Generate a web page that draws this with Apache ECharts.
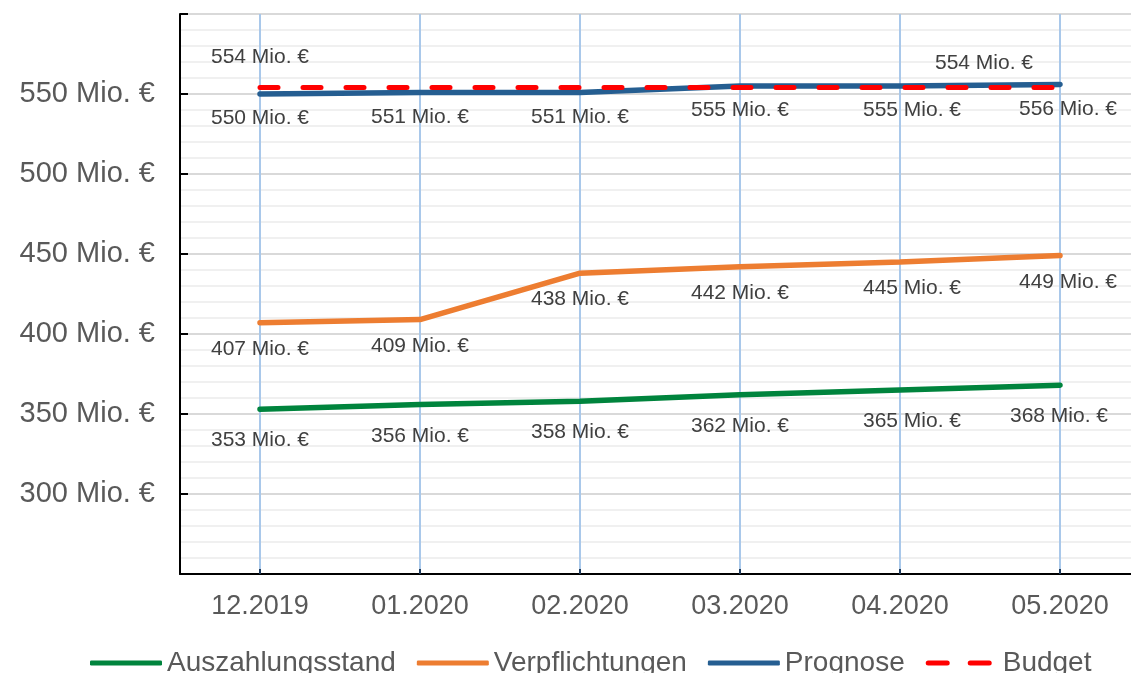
<!DOCTYPE html>
<html>
<head>
<meta charset="utf-8">
<script src="https://cdn.jsdelivr.net/npm/echarts@6/dist/echarts.min.js"></script>
<style>
html,body{margin:0;padding:0;background:#fff;}
#main{width:1131px;height:673px;}
</style>
</head>
<body>
<div id="main"></div>
<script>
var months = ['12.2019', '01.2020', '02.2020', '03.2020', '04.2020', '05.2020'];
var auszahlung = [353, 356, 358, 362, 365, 368];
var verpflichtung = [407, 409, 438, 442, 445, 449];
var prognose = [550, 551, 551, 555, 555, 556];
var budget = [554, 554, 554, 554, 554, 554];
var yTicks = [300, 350, 400, 450, 500, 550];

var lblColor = '#404040';
var lblFont = 'Liberation Sans, Arial, sans-serif';

function mio(p) {
	return p.value + ' Mio. €';
}

// kleine Verschiebung der Beschriftungen wie im Original
function shiftLabels(lastDx) {
	return function (params) {
		if (params.dataIndex === 4) return {dx: 12};
		if (params.dataIndex === 5) return {dx: lastDx};
		return {};
	};
}

var myChart = echarts.init(document.getElementById('main'));

var option = {
	animation: false,
	textStyle: {fontFamily: lblFont},
	grid: {left: 180, width: 960, top: 14, bottom: 99, outerBoundsMode: 'none', containLabel: false},
	legend: {
		bottom: -9,
		left: 85,
		itemWidth: 72,
		itemHeight: 5,
		itemGap: 21,
		textStyle: {fontSize: 28, color: '#595959', fontFamily: lblFont},
		data: [
			{name: 'Auszahlungsstand', icon: 'roundRect'},
			{name: 'Verpflichtungen', icon: 'roundRect'},
			{name: 'Prognose', icon: 'roundRect'},
			{name: 'Budget', icon: 'path://M2.5,0h19a2.5,2.5 0 0 1 0,5h-19a2.5,2.5 0 0 1 0,-5z M44.5,0h19a2.5,2.5 0 0 1 0,5h-19a2.5,2.5 0 0 1 0,-5z M72,0v5z'}
		]
	},
	xAxis: {
		type: 'category',
		data: months,
		axisLine: {lineStyle: {color: '#000', width: 2}},
		axisTick: {show: true, inside: true, alignWithLabel: true, length: 5, lineStyle: {color: '#1f3a5a', width: 2}},
		axisLabel: {fontSize: 27, color: '#595959', margin: 19},
		splitLine: {show: true, alignWithLabel: true, lineStyle: {color: '#a9c8ea', width: 2}}
	},
	yAxis: {
		type: 'value',
		min: 250,
		max: 600,
		interval: 50,
		axisLine: {show: true, lineStyle: {color: '#000', width: 2}},
		axisTick: {show: true, inside: true, length: 8, lineStyle: {color: '#000', width: 2}},
		axisLabel: {
			fontSize: 29, color: '#595959', margin: 25,
			formatter: function (v) {
				return yTicks.indexOf(v) >= 0 ? v + ' Mio. €' : '';
			}
		},
		splitLine: {lineStyle: {color: '#d9d9d9', width: 2}},
		minorTick: {show: false, splitNumber: 5},
		minorSplitLine: {show: true, lineStyle: {color: '#f0f0f0', width: 2}}
	},
	series: [
		{
			name: 'Auszahlungsstand',
			type: 'line',
			data: auszahlung,
			symbol: 'circle',
			symbolSize: 0,
			color: '#00843d',
			lineStyle: {width: 5.5, cap: 'round'},
			label: {
				show: true, position: 'bottom', distance: 21,
				fontSize: 21, color: lblColor, formatter: mio
			},
			labelLayout: shiftLabels(-1)
		},
		{
			name: 'Verpflichtungen',
			type: 'line',
			data: verpflichtung,
			symbol: 'circle',
			symbolSize: 0,
			color: '#ed7d31',
			lineStyle: {width: 5.5, cap: 'round'},
			label: {
				show: true, position: 'bottom', distance: 16,
				fontSize: 21, color: lblColor, formatter: mio
			},
			labelLayout: shiftLabels(8)
		},
		{
			name: 'Prognose',
			type: 'line',
			data: prognose,
			symbol: 'circle',
			symbolSize: 0,
			color: '#255e91',
			lineStyle: {width: 5.5, cap: 'round'},
			label: {
				show: true, position: 'bottom', distance: 14,
				fontSize: 21, color: lblColor, formatter: mio
			},
			labelLayout: shiftLabels(8)
		},
		{
			name: 'Budget',
			type: 'line',
			data: budget,
			symbol: 'circle',
			symbolSize: 0,
			color: '#ff0000',
			lineStyle: {width: 5, type: [18, 25], cap: 'round'},
			label: {
				show: true, position: 'top', distance: 20,
				fontSize: 21, color: lblColor,
				formatter: function (p) {
					if (p.dataIndex === 0 || p.dataIndex === budget.length - 1) return mio(p);
					return '';
				}
			},
			labelLayout: function (params) {
				if (params.dataIndex === budget.length - 1) {
					return {dx: -76, dy: 6};
				}
				return {};
			}
		}
	]
};

myChart.setOption(option);
</script>
</body>
</html>
